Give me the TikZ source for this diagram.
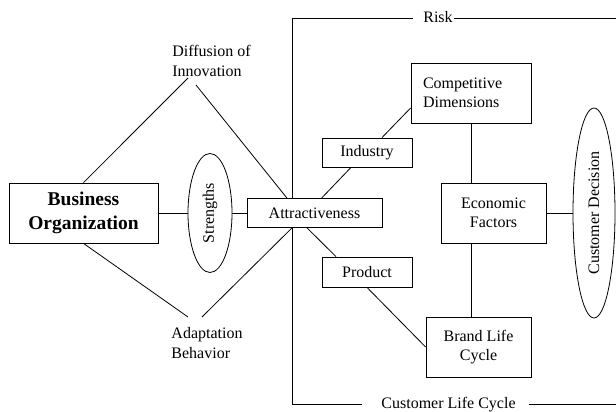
\documentclass[tikz,border=0pt]{standalone}
\usepackage{fontspec}
\setmainfont{Liberation Serif}
\usetikzlibrary{shapes.geometric}

\begin{document}
\begin{tikzpicture}[x=1pt, y=-1pt, line width=0.8pt,
    every node/.style={font=\fontsize{16}{19.5}\selectfont},
    box/.style={draw, inner sep=0pt, align=center},
    oval/.style={draw, ellipse, inner sep=0pt, rotate=90}]
    \useasboundingbox (0,0) rectangle (616,412);

    % Left side
    \node[box, minimum width=149pt, minimum height=60pt, font=\fontsize{19.5}{23.5}\selectfont\bfseries] (org) at (83.5,213) {Business\\Organization};
    \node[oval, minimum width=119pt, minimum height=44pt] (str) at (210,213) {Strengths};
    \node[box, minimum width=135pt, minimum height=29pt] (att) at (314.5,213) {Attractiveness};
    \node[align=left, inner sep=0pt] (diff) at (211.5,61) {Diffusion of\\Innovation};
    \node[align=left, inner sep=0pt] (adapt) at (207,343) {Adaptation\\Behavior};
    \coordinate (diffL) at (188,78);
    \coordinate (diffR) at (196,85);
    \coordinate (adaptL) at (188,317);
    \coordinate (adaptR) at (202,317);

    \draw (org) -- (str);
    \draw (str) -- (att);
    \draw (org.north) -- (diffL);
    \draw (diffR) -- ([xshift=-27.5pt]att.north);
    \draw (org.south) -- (adaptL);
    \draw (adaptR) -- ([xshift=-22.5pt]att.south);

    % Right side
    \node[box, minimum width=90pt, minimum height=29pt] (ind) at (367,152.5) {Industry};
    \node[box, minimum width=90pt, minimum height=30pt] (prod) at (367,272) {Product};
    \node[box, minimum width=120pt, minimum height=60pt, align=left, text width=96pt] (comp) at (471,93) {Competitive\\Dimensions};
    \node[box, minimum width=105pt, minimum height=60pt] (eco) at (493.5,213) {Economic\\Factors};
    \node[box, minimum width=105pt, minimum height=60pt] (brand) at (478.5,347) {Brand Life\\Cycle};
    \node[oval, minimum width=210pt, minimum height=42pt] (cust) at (594,213) {Customer Decision};

    \draw ([xshift=75pt]att.north west) -- ([xshift=-16pt]ind.south);
    \draw ([xshift=15pt]ind.north) -- ([yshift=-15pt]comp.west);
    \draw ([xshift=-7.5pt]att.south) -- ([xshift=-31pt]prod.north);
    \draw (prod.south) -- (brand.west);
    \draw (comp.south) -- (comp.south |- eco.north);
    \draw (comp.south |- eco.south) -- (comp.south |- brand.north);
    \draw (eco) -- (cust);

    % Risk and life cycle frame
    \node[anchor=base, inner sep=0pt] (risk) at (438,22.5) {Risk};
    \node[anchor=base, inner sep=0pt] (clc) at (448.5,408.5) {Customer Life Cycle};
    \coordinate (rtop) at (292,18.5);
    \coordinate (rbot) at (292,404);
    \coordinate (riskL) at (413,18.5);
    \coordinate (riskR) at (454,18.5);
    \coordinate (rend) at (616,18.5);
    \coordinate (clcL) at (362,404);
    \coordinate (clcR) at (529,404);
    \coordinate (cend) at (616,404);
    \draw (rtop) -- (riskL);
    \draw (riskR) -- (rend);
    \draw (rbot) -- (clcL);
    \draw (clcR) -- (cend);
    \draw (rtop) -- (rtop |- att.north);
    \draw (rbot |- att.south) -- (rbot);
\end{tikzpicture}
\end{document}
